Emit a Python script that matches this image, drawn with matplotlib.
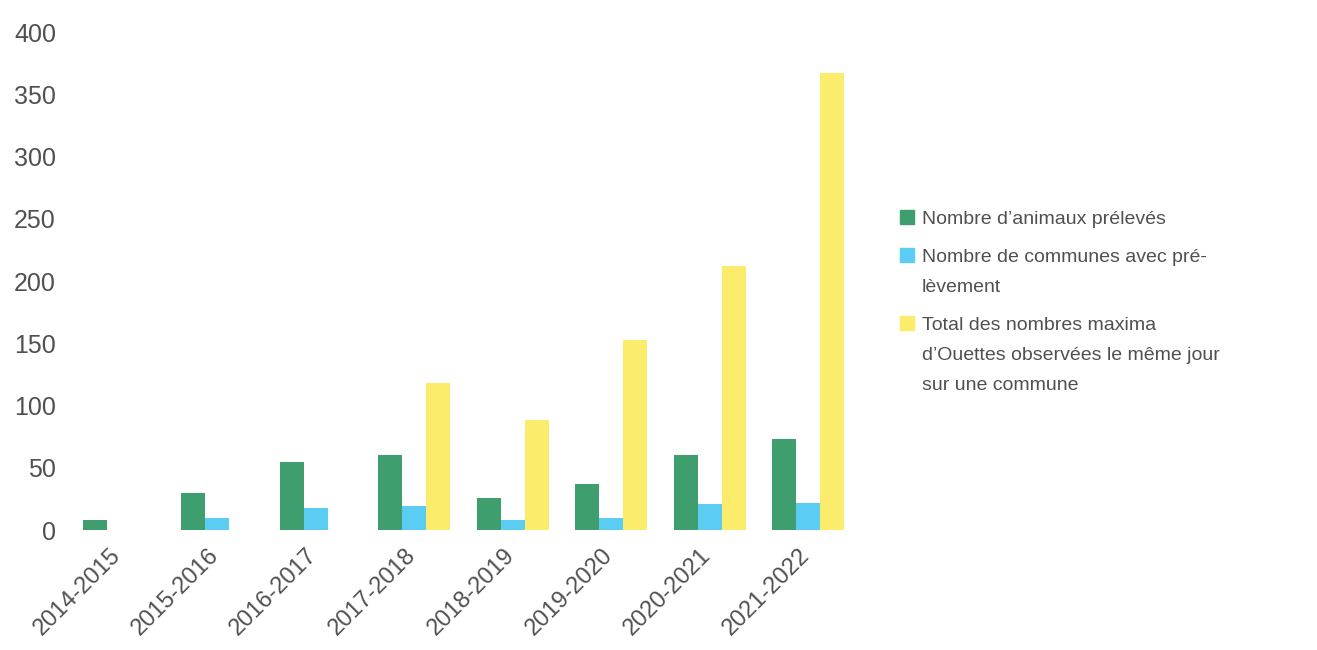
"""
Prélèvements d'Ouettes par saison : bar chart groupé.
"""

import matplotlib.pyplot as plt
import numpy as np
from matplotlib.patches import Rectangle
from matplotlib.transforms import ScaledTranslation

# Saisons et valeurs
seasons = ["2014-2015", "2015-2016", "2016-2017", "2017-2018",
           "2018-2019", "2019-2020", "2020-2021", "2021-2022"]
animaux = [8, 30, 55, 60, 26, 37, 60, 73]
communes = [0, 10, 18, 19, 8, 10, 21, 22]
maxima = [0, 0, 0, 118, 88, 153, 212, 367]

labels = [
    "Nombre d\u2019animaux prélevés",
    "Nombre de communes avec pré-\nlèvement",
    "Total des nombres maxima\nd\u2019Ouettes observées le même jour\nsur une commune",
]
colors = ["#3f9e6d", "#5ccdf2", "#fbec6b"]
text_color = "#505050"


def draw_legend(fig, labels, colors):
    """Legend drawn by hand so that each square sits on the first line."""
    W, H = fig.bbox.width, fig.bbox.height
    y = 217  # pixel centre of the first line, from the top
    for lab, col in zip(labels, colors):
        fig.patches.append(Rectangle(
            (900 / W, 1 - (y + 7) / H), 14 / W, 14 / H,
            transform=fig.transFigure, color=col, figure=fig))
        lines = lab.split("\n")
        for k, line in enumerate(lines):
            fig.text(922 / W, 1 - (y + 7 + 30 * k) / H, line,
                     fontsize=14, color=text_color, va="baseline", ha="left")
        y += 30 * len(lines) + 8


def main():
    plt.rcParams["font.family"] = ["Liberation Sans", "DejaVu Sans"]
    fig = plt.figure(figsize=(13.17, 6.5), dpi=100)
    ax = fig.add_axes([0.053, 0.1846, 0.598, 0.766])

    x = np.arange(len(seasons))
    width = 0.244
    series = [animaux, communes, maxima]
    for i, (vals, col, lab) in enumerate(zip(series, colors, labels)):
        ax.bar(x + (i - 1) * width, vals, width, color=col, label=lab,
               clip_on=False)

    ax.set_xlim(-0.5, len(seasons) - 0.5)
    ax.set_ylim(0, 400)
    ax.set_yticks(np.arange(0, 401, 50))
    ax.set_xticks(x)
    ax.set_xticklabels(seasons, rotation=45, ha="right",
                       rotation_mode="anchor")

    for side in ["top", "right", "left", "bottom"]:
        ax.spines[side].set_visible(False)
    ax.tick_params(axis="y", length=0, labelsize=18, labelcolor=text_color,
                   pad=10)
    ax.tick_params(axis="x", length=0, labelsize=17, labelcolor=text_color,
                   pad=10)

    # nudge the rotated season labels a little to the left
    shift = ScaledTranslation(-7 / 72, 0, fig.dpi_scale_trans)
    for lbl in ax.get_xticklabels():
        lbl.set_transform(lbl.get_transform() + shift)

    draw_legend(fig, labels, colors)

    fig.savefig("out.png", dpi=100)


if __name__ == "__main__":
    main()
